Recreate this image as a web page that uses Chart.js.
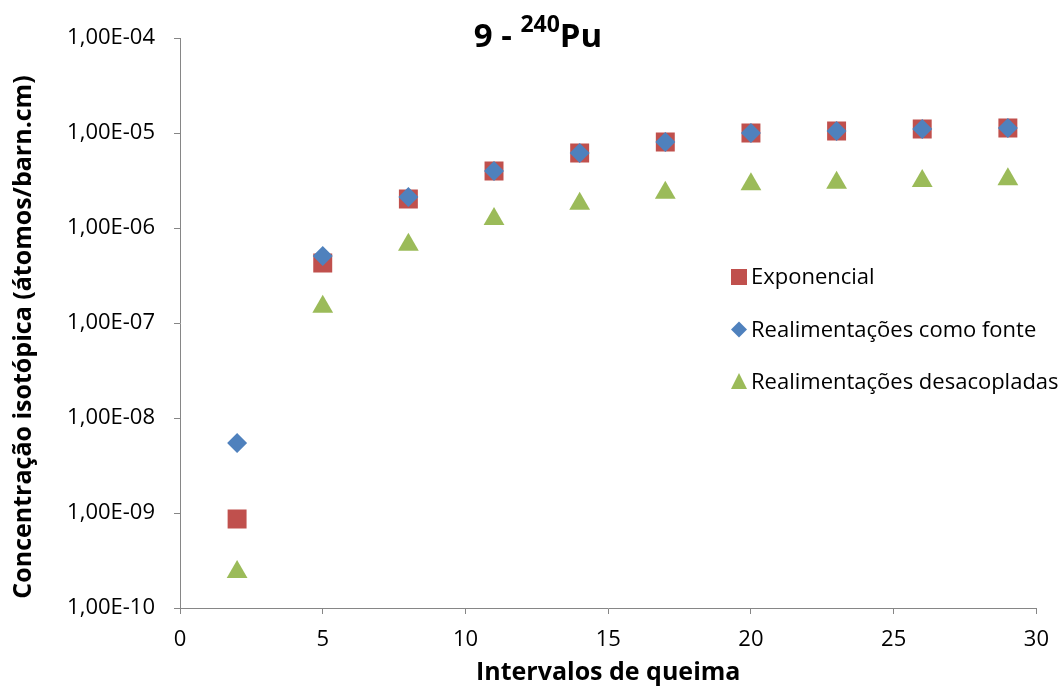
<!DOCTYPE html>
<html>
<head>
<meta charset="utf-8">
<script src="https://cdn.jsdelivr.net/npm/chart.js@4/dist/chart.umd.min.js"></script>
<style>
  body { margin: 0; background: #fff; }
  #wrap { position: relative; width: 1062px; height: 688px; }
  #title {
    position: absolute; left: 538px; top: 6px; transform: translateX(-50%);
    font: bold 33px "Open Sans", sans-serif; color: #000; white-space: nowrap; line-height: 40px;
  }
  #title sup { font-size: 23px; position: relative; top: -3px; }
</style>
</head>
<body>
<div id="wrap">
  <canvas id="chart" width="1062" height="688"></canvas>
  <div id="title">9 - <sup>240</sup>Pu</div>
</div>
<script>
// Intervalos de queima
const intervalos = [2, 5, 8, 11, 14, 17, 20, 23, 26, 29];

// Concentração isotópica do Pu-240 (átomos/barn.cm)
const exponencial = [8.65e-10, 4.28e-7, 2.02e-6, 3.98e-6, 6.16e-6, 8.04e-6, 1.00e-5, 1.05e-5, 1.10e-5, 1.13e-5];
const comoFonte = [5.46e-9, 5.07e-7, 2.12e-6, 3.98e-6, 6.16e-6, 8.04e-6, 1.00e-5, 1.05e-5, 1.10e-5, 1.13e-5];
const desacopladas = [2.39e-10, 1.48e-7, 6.67e-7, 1.24e-6, 1.80e-6, 2.35e-6, 2.88e-6, 3.00e-6, 3.13e-6, 3.25e-6];

// ticks do eixo y (escala log)
const yTicks = [1e-10, 1e-9, 1e-8, 1e-7, 1e-6, 1e-5, 1e-4];

const yTitulo = "Concentração isotópica (átomos/barn.cm)";

const toPoints = (vals) => vals.map((v, i) => ({ x: intervalos[i], y: v }));

// formato tipo Excel: 1,00E-04
function fmtExp(v) {
  const [m, e] = v.toExponential(2).split("e");
  const n = parseInt(e, 10);
  return m.replace(".", ",") + "E" + (n < 0 ? "-" : "+") + String(Math.abs(n)).padStart(2, "0");
}

const FONT = "'Open Sans', sans-serif";

// legenda dentro da área do gráfico + título do eixo y (um pouco abaixo do centro, como no Excel)
const extras = {
  id: "extras",
  afterDraw(chart) {
    const ctx = chart.ctx;
    const area = chart.chartArea;

    ctx.save();
    ctx.translate(24, area.top + 299);
    ctx.rotate(-Math.PI / 2);
    ctx.font = "bold 25px " + FONT;
    ctx.fillStyle = "#000";
    ctx.textAlign = "center";
    ctx.textBaseline = "middle";
    ctx.fillText(yTitulo, 0, 0);
    ctx.restore();

    const x0 = area.left + 559;
    let y = area.top + 239;
    ctx.save();
    ctx.font = "22px " + FONT;
    ctx.textBaseline = "middle";
    ctx.textAlign = "left";
    chart.data.datasets.forEach((ds) => {
      ctx.fillStyle = ds.backgroundColor;
      ctx.beginPath();
      if (ds.pointStyle === "rect") {
        ctx.rect(x0 - 8, y - 8, 16, 16);
      } else if (ds.pointStyle === "rectRot") {
        ctx.moveTo(x0, y - 8); ctx.lineTo(x0 + 8, y); ctx.lineTo(x0, y + 8); ctx.lineTo(x0 - 8, y);
      } else {
        ctx.moveTo(x0, y - 9); ctx.lineTo(x0 + 8, y + 7); ctx.lineTo(x0 - 8, y + 7);
      }
      ctx.closePath();
      ctx.fill();
      ctx.fillStyle = "#000";
      ctx.fillText(ds.label, x0 + 12, y + 1);
      y += 52.5;
    });
    ctx.restore();
  },
};

new Chart(document.getElementById("chart"), {
  type: "scatter",
  data: {
    datasets: [
      {
        label: "Exponencial",
        data: toPoints(exponencial),
        pointStyle: "rect",
        pointRadius: 13.4,
        backgroundColor: "#C0504D",
        borderColor: "#C0504D",
        borderWidth: 0,
        order: 2,
      },
      {
        label: "Realimentações como fonte",
        data: toPoints(comoFonte),
        pointStyle: "rectRot",
        pointRadius: 10,
        backgroundColor: "#4F81BD",
        borderColor: "#4F81BD",
        borderWidth: 0,
        order: 1,
      },
      {
        label: "Realimentações desacopladas",
        data: toPoints(desacopladas),
        pointStyle: "triangle",
        pointRadius: 12,
        backgroundColor: "#9BBB59",
        borderColor: "#9BBB59",
        borderWidth: 0,
        order: 3,
      },
    ],
  },
  options: {
    responsive: false,
    animation: false,
    layout: { padding: { top: 38, right: 21, left: 0, bottom: 0 } },
    plugins: {
      legend: { display: false },
      tooltip: { enabled: false },
    },
    scales: {
      x: {
        type: "linear",
        min: 0,
        max: 30,
        ticks: { stepSize: 5, color: "#000", font: { family: FONT, size: 22 }, padding: 13 },
        grid: { drawOnChartArea: false, drawTicks: true, tickLength: 6, color: "#868686" },
        border: { color: "#868686", width: 1 },
        title: {
          display: true,
          text: "Intervalos de queima",
          color: "#000",
          font: { family: FONT, size: 25, weight: "bold" },
          padding: { top: 0, bottom: 0 },
        },
        afterFit: (scale) => { scale.height = 80; },
      },
      y: {
        type: "logarithmic",
        min: 1e-10,
        max: 1e-4,
        afterBuildTicks: (scale) => { scale.ticks = yTicks.map((v) => ({ value: v })); },
        ticks: {
          color: "#000",
          font: { family: FONT, size: 22 },
          padding: 19,
          callback: (v) => fmtExp(v),
        },
        grid: { drawOnChartArea: false, drawTicks: true, tickLength: 6, color: "#868686" },
        border: { color: "#868686", width: 1 },
        afterFit: (scale) => { scale.width = 180; },
      },
    },
  },
  plugins: [extras],
});
</script>
</body>
</html>
